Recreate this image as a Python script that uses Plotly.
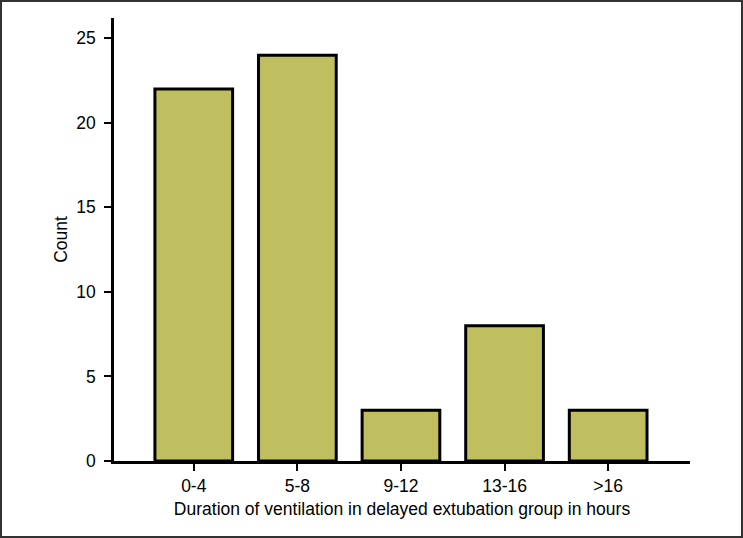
import plotly.graph_objects as go

categories = ["0-4", "5-8", "9-12", "13-16", ">16"]
counts = [22, 24, 3, 8, 3]
y_ticks = [0, 5, 10, 15, 20, 25]

W, H = 743, 538
L, R, T, B = 114, 53, 18, 77
pw, ph = W - L - R, H - T - B

fig = go.Figure(go.Bar(
    x=categories, y=counts, width=0.75,
    marker=dict(color="#bfbf60", line=dict(color="black", width=3)),
))

font = dict(family="Liberation Sans, Arial, sans-serif", size=17.5, color="black")
fig.update_layout(
    width=W, height=H,
    margin=dict(l=L, r=R, t=T, b=B),
    plot_bgcolor="white", paper_bgcolor="white",
    font=font, showlegend=False,
    xaxis=dict(
        type="category", range=[-0.77, 4.79],
        showline=True, linecolor="black", linewidth=2.5,
        ticks="outside", ticklen=7, tickwidth=2, tickcolor="black",
        showgrid=False, zeroline=False, tickfont=font,
        title=dict(text="Duration of ventilation in delayed extubation group in hours", standoff=8, font=font),
    ),
    yaxis=dict(
        range=[0, 26.2], tickvals=y_ticks,
        showline=True, linecolor="black", linewidth=2.5,
        ticks="outside", ticklen=7, tickwidth=2, tickcolor="black",
        showgrid=False, zeroline=False, tickfont=font, ticklabelstandoff=5,
        title=dict(text="Count", standoff=5, font=font),
    ),
    shapes=[dict(
        type="rect", xref="paper", yref="paper",
        x0=-(L - 1) / pw, x1=(W - L - 1) / pw,
        y0=-(B - 1) / ph, y1=(H - B - 1) / ph,
        line=dict(color="#333333", width=2), fillcolor="rgba(0,0,0,0)",
        layer="above",
    )],
)

fig.write_html("out.html", config={"displayModeBar": False},
               post_script="document.body.style.margin='0';document.body.style.overflow='hidden';")
